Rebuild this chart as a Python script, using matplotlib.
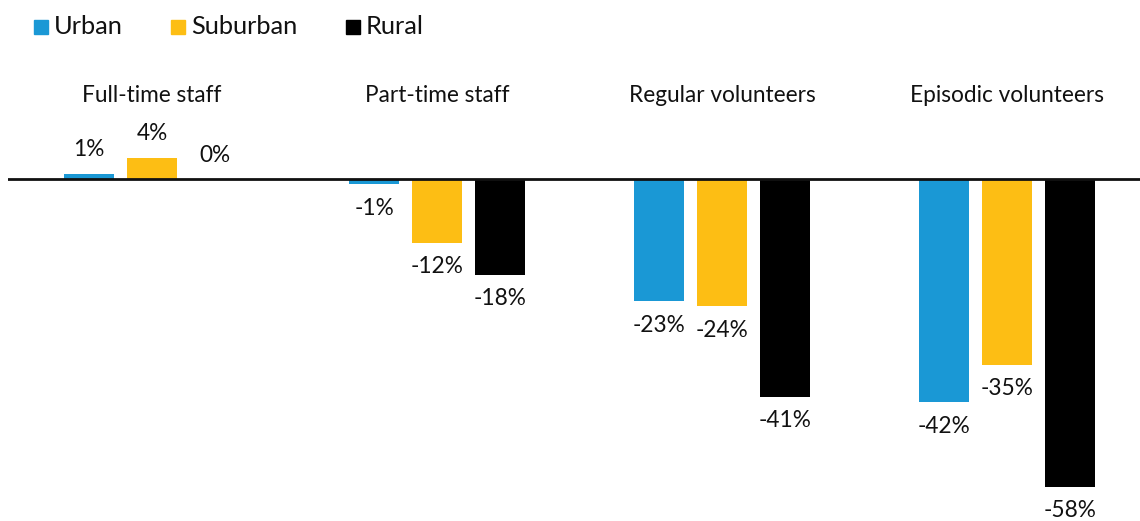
import matplotlib.pyplot as plt
import numpy as np

plt.rcParams['font.family'] = ['Lato', 'DejaVu Sans']

categories = ['Full-time staff', 'Part-time staff', 'Regular volunteers', 'Episodic volunteers']
series = ['Urban', 'Suburban', 'Rural']
urban = [1, -1, -23, -42]
suburban = [4, -12, -24, -35]
rural = [0, -18, -41, -58]
colors = ['#1a98d5', '#fdbe14', '#000000']

W, H = 1140, 521
fig = plt.figure(figsize=(W / 100, H / 100), dpi=100)
# axes: x from 8 to 1140 px, y from 120 to 521 px
ax = fig.add_axes([8 / W, 0, 1 - 8 / W, (H - 120) / H])

px_per_unit = 285.0
px_per_pct = 5.31
ax.set_xlim((8 - 152) / px_per_unit, (1140 - 152) / px_per_unit)
ax.set_ylim(-(521 - 179) / px_per_pct, (179 - 120) / px_per_pct)
ax.axis('off')

x = np.arange(len(categories))
offset = 63 / px_per_unit
width = 50 / px_per_unit
for i, (vals, col) in enumerate(zip([urban, suburban, rural], colors)):
    xs = x + (i - 1) * offset
    ax.bar(xs, vals, width=width, color=col, zorder=2)
    for xi, v in zip(xs, vals):
        if v >= 0:
            ax.annotate(f'{v}%', (xi, v), xytext=(0, 24), textcoords='offset pixels',
                        ha='center', va='center', fontsize=16.3, color='#111111')
        else:
            ax.annotate(f'{v}%', (xi, v), xytext=(0, -24), textcoords='offset pixels',
                        ha='center', va='center', fontsize=16.3, color='#111111')

ax.axhline(0, color='#111111', lw=2, zorder=3)

for xi, cat in zip(x, categories):
    ax.annotate(cat, (xi, 0), xytext=(0, 83), textcoords='offset pixels',
                ha='center', va='center', fontsize=16.3, color='#111111')

# legend
leg_x = [34, 171, 346]
for lx, name, col in zip(leg_x, series, colors):
    fig.patches.append(plt.Rectangle((lx / W, 1 - 34 / H), 14 / W, 14 / H,
                                     transform=fig.transFigure, color=col))
    fig.text((lx + 20) / W, 1 - 27 / H, name, ha='left', va='center',
             fontsize=18.3, color='#111111')

fig.savefig('out.png', dpi=100)
